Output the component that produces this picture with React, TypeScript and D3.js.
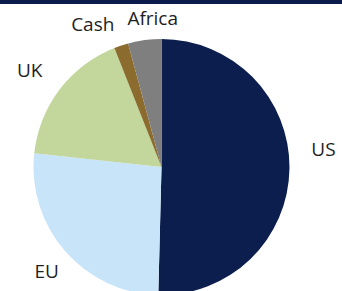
import React from "react";
import * as d3 from "d3";

const categories = ["US", "EU", "UK", "Cash", "Africa"];
const shares = [50.4, 26.3, 17.3, 1.8, 4.2];
const colors = ["#0c1e4e", "#c7e4f8", "#c3d69b", "#8b6c2e", "#7f7f7f"];
// small manual nudges for label placement (Excel best-fit style)
const labelNudges: [number, number][] = [
  [4, -20],
  [4, 0],
  [-6, -1],
  [-19, 7],
  [12, 8],
];

const W = 342;
const H = 291;
const CX = 161.5;
const CY = 167;
const R = 128;
const LABEL_R = 158;

export default function App() {
  const data = categories.map((c, i) => ({ name: c, value: shares[i], i }));
  const pie = d3
    .pie<{ name: string; value: number; i: number }>()
    .sort(null)
    .value((d) => d.value)
    .startAngle(0)
    .endAngle(2 * Math.PI);
  const arcs = pie(data);
  const arc = d3
    .arc<d3.PieArcDatum<{ name: string; value: number; i: number }>>()
    .innerRadius(0)
    .outerRadius(R);
  const labelArc = d3
    .arc<d3.PieArcDatum<{ name: string; value: number; i: number }>>()
    .innerRadius(LABEL_R)
    .outerRadius(LABEL_R);

  return (
    <svg
      width={W}
      height={H}
      style={{ position: "fixed", left: 0, top: 0, display: "block", background: "#fff" }}
    >
      <rect x={0} y={0} width={W} height={4} fill="#0b1b4a" />
      <g transform={`translate(${CX},${CY})`}>
        {arcs.map((a) => (
          <path key={a.data.name} d={arc(a) || ""} fill={colors[a.data.i]} />
        ))}
        {arcs.map((a) => {
          const [x, y] = labelArc.centroid(a);
          const [nx, ny] = labelNudges[a.data.i];
          return (
            <text
              key={"l" + a.data.name}
              x={x + nx}
              y={y + ny + 7}
              textAnchor="middle"
              fontFamily="'Open Sans', sans-serif"
              fontSize={19}
              fill="#1e1e1e"
            >
              {a.data.name}
            </text>
          );
        })}
      </g>
    </svg>
  );
}
